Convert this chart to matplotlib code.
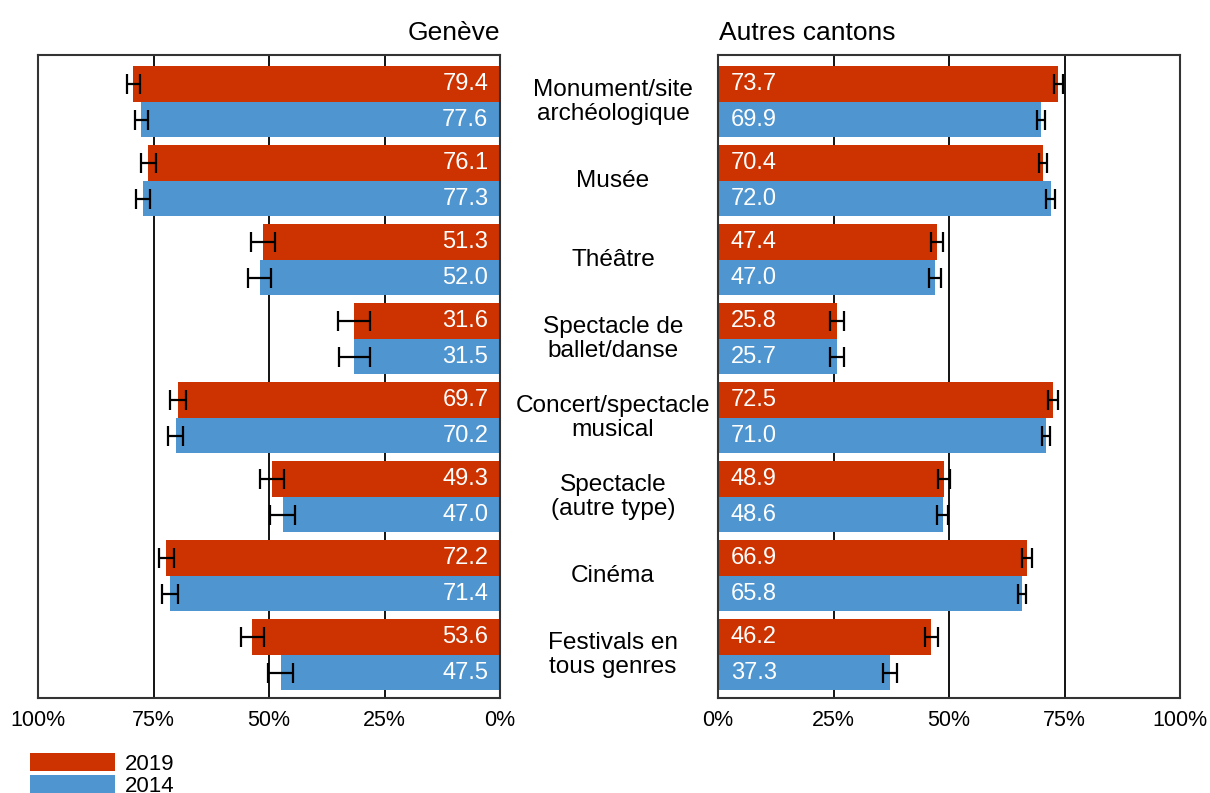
import numpy as np
import matplotlib.pyplot as plt
import matplotlib.transforms as mtransforms

plt.rcParams['font.family'] = ['Liberation Sans', 'DejaVu Sans']

# categories, top to bottom
categories = ['Monument/site\narchéologique', 'Musée', 'Théâtre',
              'Spectacle de\nballet/danse', 'Concert/spectacle\nmusical',
              'Spectacle\n(autre type)', 'Cinéma', 'Festivals en\ntous genres']

# Genève
geneve_2019 = [79.4, 76.1, 51.3, 31.6, 69.7, 49.3, 72.2, 53.6]
geneve_2014 = [77.6, 77.3, 52.0, 31.5, 70.2, 47.0, 71.4, 47.5]
geneve_err_2019 = [1.4, 1.55, 2.6, 3.4, 1.7, 2.6, 1.6, 2.45]
geneve_err_2014 = [1.5, 1.5, 2.5, 3.35, 1.6, 2.7, 1.7, 2.7]

# Autres cantons
autres_2019 = [73.7, 70.4, 47.4, 25.8, 72.5, 48.9, 66.9, 46.2]
autres_2014 = [69.9, 72.0, 47.0, 25.7, 71.0, 48.6, 65.8, 37.3]
autres_err_2019 = [0.9, 0.9, 1.3, 1.5, 1.0, 1.3, 1.1, 1.5]
autres_err_2014 = [0.9, 0.9, 1.3, 1.5, 0.9, 1.2, 0.9, 1.5]

ticks = [0, 25, 50, 75, 100]
tick_labels = ['0%', '25%', '50%', '75%', '100%']

red = '#CC3300'
blue = '#4F95CF'

fig = plt.figure(figsize=(12.1, 7.93), dpi=100)
ax1 = fig.add_axes([38/1210, 95/793, 462/1210, 643/793])
ax2 = fig.add_axes([718/1210, 95/793, 462/1210, 643/793])

y = np.arange(len(categories))
h = 0.453
fs = 17

def panel(ax, v19, v14, e19, e14, left):
    for g in [25, 50, 75]:
        ax.axvline(g, color='black', lw=1.3, zorder=0)
    b19 = ax.barh(y - h/2, v19, height=h, color=red, label='2019', zorder=2)
    b14 = ax.barh(y + h/2, v14, height=h, color=blue, label='2014', zorder=2)
    ax.errorbar(v19, y - h/2, xerr=e19, fmt='none', ecolor='black',
                elinewidth=1.6, capsize=7, capthick=1.6, zorder=3)
    ax.errorbar(v14, y + h/2, xerr=e14, fmt='none', ecolor='black',
                elinewidth=1.6, capsize=7, capthick=1.6, zorder=3)
    for i in range(len(y)):
        if left:
            ax.text(2.5, y[i] - h/2, '%.1f' % v19[i], ha='right', va='center',
                    color='white', fontsize=fs, zorder=4)
            ax.text(2.5, y[i] + h/2, '%.1f' % v14[i], ha='right', va='center',
                    color='white', fontsize=fs, zorder=4)
        else:
            ax.text(2.8, y[i] - h/2, '%.1f' % v19[i], ha='left', va='center',
                    color='white', fontsize=fs, zorder=4)
            ax.text(2.8, y[i] + h/2, '%.1f' % v14[i], ha='left', va='center',
                    color='white', fontsize=fs, zorder=4)
    if left:
        ax.set_xlim(100, 0)
    else:
        ax.set_xlim(0, 100)
    ax.set_ylim(7.548, -0.591)
    ax.set_xticks(ticks)
    ax.set_xticklabels(tick_labels, fontsize=15.5)
    ax.set_yticks([])
    ax.tick_params(axis='x', length=0, pad=9)
    for s in ax.spines.values():
        s.set_color('#333333')
        s.set_linewidth(1.5)
    return b19, b14

handles = panel(ax1, geneve_2019, geneve_2014, geneve_err_2019, geneve_err_2014, True)
panel(ax2, autres_2019, autres_2014, autres_err_2019, autres_err_2014, False)

ax1.annotate('Genève', xy=(1, 1), xycoords='axes fraction', xytext=(0, 11),
             textcoords='offset points', ha='right', va='baseline', fontsize=19)
ax2.annotate('Autres cantons', xy=(0, 1), xycoords='axes fraction', xytext=(1, 11),
             textcoords='offset points', ha='left', va='baseline', fontsize=19)

trans = mtransforms.blended_transform_factory(fig.transFigure, ax1.transData)
for i, c in enumerate(categories):
    ax1.text(613/1210, y[i], c, transform=trans, ha='center', va='center',
             fontsize=17.6, linespacing=1.1, clip_on=False)

fig.legend(handles, ['2019', '2014'], loc='upper left',
           bbox_to_anchor=(30/1210, 1 - 753/793),
           frameon=False, fontsize=16, handlelength=3.83, handleheight=0.9,
           labelspacing=0.0, handletextpad=0.45, borderpad=0, borderaxespad=0)

fig.savefig('out.png', dpi=100)
